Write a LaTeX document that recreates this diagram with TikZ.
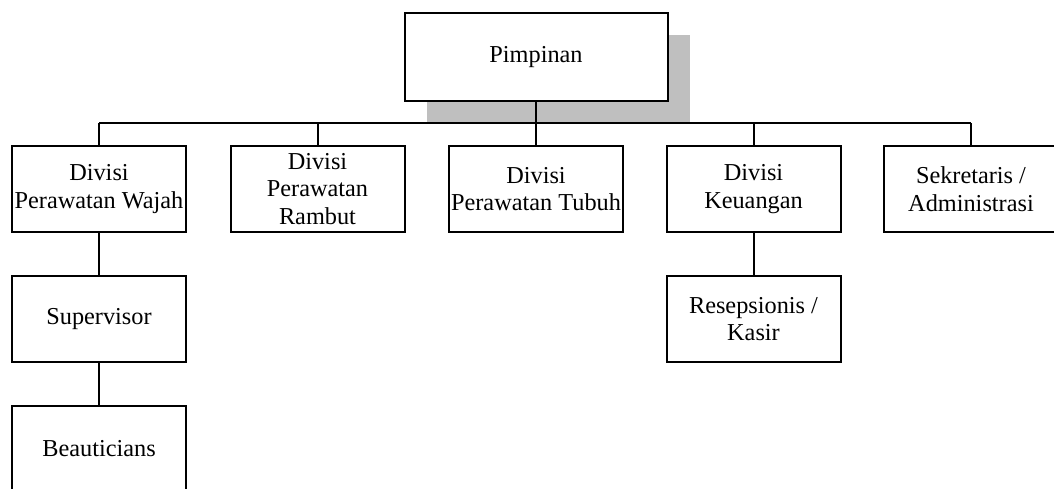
\documentclass[tikz,border=0pt]{standalone}
\usepackage{fontspec}
\setmainfont{Liberation Serif}
\usetikzlibrary{shadows}
\begin{document}
\begin{tikzpicture}[x=1pt,y=-1pt,
  box/.style={draw, line width=2pt, fill=white, minimum width=174pt, minimum height=86pt,
    inner sep=0pt, align=center, font=\fontsize{24.3}{27.5}\selectfont},
  conn/.style={line width=2pt}]
\useasboundingbox (0,0) rectangle (1054,488);
\node[box, minimum width=263pt, minimum height=88pt,
  drop shadow={shadow xshift=22pt, shadow yshift=-22pt, fill=black!25, opacity=1}] (top) at (536,57) {Pimpinan};
\coordinate (bus) at (0,123);
\node[box] (b1) at (99,189) {Divisi\\Perawatan Wajah};
\node[box] (b2) at (317.5,189) {Divisi\\Perawatan\\Rambut};
\node[box] (b3) at (536,189) {Divisi\\Perawatan Tubuh};
\node[box] (b4) at (753.5,189) {Divisi\\Keuangan};
\node[box] (b5) at (971,189) {Sekretaris /\\Administrasi};
\node[box] (sup) at (99,319) {Supervisor};
\node[box] (beau) at (99,449) {Beauticians};
\node[box] (kas) at (753.5,319) {Resepsionis /\\Kasir};
\draw[conn] (top.south) -- (top.south |- bus);
\draw[conn] (b1.north |- bus) -- (b5.north |- bus);
\foreach \n in {b1,b2,b3,b4,b5} \draw[conn] (\n.north) -- (\n.north |- bus);
\draw[conn] (b1) -- (sup);
\draw[conn] (sup) -- (beau);
\draw[conn] (b4) -- (kas);
\end{tikzpicture}
\end{document}
